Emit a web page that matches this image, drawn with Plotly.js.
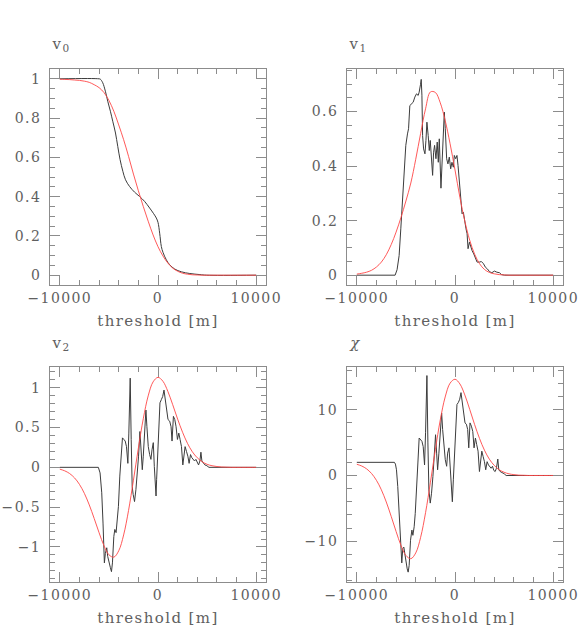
<!DOCTYPE html>
<html>
<head>
<meta charset="utf-8">
<script src="https://cdn.plot.ly/plotly-3.0.1.min.js"></script>
<style>
  html, body { margin: 0; padding: 0; background: #fff; }
  #chart { width: 587px; height: 644px; }
  /* the original lettering is wide and airy */
  #chart .main-svg text { letter-spacing: 1.4px; }
</style>
</head>
<body>
<div id="chart"></div>
<script>
// model (red) curves, read on a 500 m grid
const gridX = [-10000, -9500, -9000, -8500, -8000, -7500, -7000, -6500, -6000, -5500, -5000,
  -4500, -4000, -3500, -3000, -2500, -2000, -1500, -1000, -500, 0,
  500, 1000, 1500, 2000, 2500, 3000, 3500, 4000, 4500, 5000,
  5500, 6000, 6500, 7000, 7500, 8000, 8500, 9000, 9500, 10000]

const v0Model = [0.998, 0.997, 0.996, 0.994, 0.992, 0.988, 0.982, 0.97, 0.955, 0.93, 0.89,
  0.835, 0.765, 0.69, 0.605, 0.515, 0.43, 0.35, 0.275, 0.205, 0.145,
  0.098, 0.062, 0.036, 0.02, 0.01, 0.005, 0.002, 0.001, 0, 0,
  0, 0, 0, 0, 0, 0, 0, 0, 0, 0]

const v1Model = [0.004, 0.007, 0.011, 0.018, 0.03, 0.048, 0.075, 0.112, 0.158, 0.212, 0.272,
  0.338, 0.425, 0.52, 0.61, 0.672, 0.67, 0.632, 0.567, 0.482, 0.386,
  0.285, 0.198, 0.128, 0.077, 0.042, 0.021, 0.01, 0.005, 0.002, 0.001,
  0, 0, 0, 0, 0, 0, 0, 0, 0, 0]

const v2Model = [-0.023, -0.044, -0.078, -0.133, -0.214, -0.327, -0.472, -0.642, -0.821, -0.985, -1.098,
  -1.128, -1.048, -0.849, -0.541, -0.161, 0.241, 0.61, 0.897, 1.073, 1.13,
  1.081, 0.955, 0.786, 0.606, 0.441, 0.302, 0.195, 0.12, 0.07, 0.038,
  0.02, 0.01, 0.004, 0.002, 0, 0, 0, 0, 0, 0]

const chiModel = [1.705, 1.442, 1.003, 0.303, -0.736, -2.177, -4.03, -6.213, -8.517, -10.65, -12.165,
  -12.656, -11.78, -9.4, -5.66, -1.015, 3.92, 8.447, 11.94, 14.04, 14.64,
  13.92, 12.25, 10.05, 7.74, 5.62, 3.85, 2.48, 1.53, 0.88, 0.49,
  0.25, 0.13, 0.05, 0.03, 0, 0, 0, 0, 0, 0]

// measured (black) curves
const v0X = [-10000, -6000, -5870, -5630, -5360, -5120, -4850, -4610, -4330, -4100, -3860, -3580,
  -3310, -2900, -2390, -1880, -1370, -850, -440, -170, 0, 170, 340, 510, 850, 1190, 1710,
  2390, 3240, 4270, 4950, 10000]
const v0Y = [1, 1, 0.998, 0.98, 0.937, 0.886, 0.835, 0.784, 0.724, 0.656, 0.588, 0.529,
  0.486, 0.452, 0.423, 0.401, 0.376, 0.342, 0.313, 0.291, 0.269, 0.214, 0.146, 0.116, 0.078, 0.053, 0.031,
  0.017, 0.0085, 0.003, 0, 0]

const v1X = [-10000, -6100, -5900, -5690, -5520, -5350, -5180, -5010, -4840, -4730,
  -4600, -4430, -4260, -4090, -3920, -3750, -3650, -3510, -3440, -3370,
  -3300, -3200, -3060, -2960, -2860, -2730, -2620, -2520, -2420, -2280,
  -2180, -2080, -1940, -1810, -1700, -1600, -1430, -1330, -1190, -1090,
  -990, -850, -720, -580, -440, -310, -170, -70, 70, 200,
  310, 440, 610, 720, 850, 990, 1120, 1230, 1330, 1470,
  1600, 1740, 1910, 2080, 2250, 2490, 2690, 2900, 3100, 3300,
  3510, 3750, 4020, 4260, 4530, 4740, 5040, 10000]
const v1Y = [0, 0, 0.02, 0.072, 0.17, 0.268, 0.366, 0.476, 0.518, 0.537,
  0.622, 0.628, 0.634, 0.653, 0.665, 0.659, 0.671, 0.7, 0.718, 0.66,
  0.512, 0.463, 0.445, 0.494, 0.561, 0.512, 0.457, 0.494, 0.451, 0.366,
  0.451, 0.476, 0.427, 0.488, 0.414, 0.5, 0.319, 0.414, 0.537, 0.598,
  0.537, 0.427, 0.408, 0.433, 0.39, 0.414, 0.396, 0.439, 0.427, 0.439,
  0.402, 0.353, 0.292, 0.225, 0.231, 0.194, 0.17, 0.152, 0.097, 0.121,
  0.103, 0.09, 0.078, 0.06, 0.048, 0.048, 0.05, 0.042, 0.029, 0.023,
  0.013, 0.009, 0.015, 0.011, 0.009, 0.002, 0, 0]

const v2X = [-10000, -6075, -5900, -5730, -5600, -5460, -5360, -5220, -5120, -4980,
  -4850, -4740, -4640, -4500, -4400, -4270, -4160, -4030, -3890, -3750,
  -3620, -3480, -3340, -3210, -3070, -2970, -2830, -2730, -2630, -2530,
  -2390, -2250, -2120, -1980, -1840, -1710, -1600, -1500, -1370, -1230,
  -1130, -990, -850, -720, -610, -480, -375, -270, -200, -140,
  -30, 100, 200, 340, 480, 610, 750, 890, 1020, 1190,
  1330, 1430, 1570, 1710, 1840, 1980, 2120, 2250, 2390, 2530,
  2660, 2760, 2900, 3040, 3170, 3310, 3450, 3580, 3720, 3860,
  4000, 4130, 4270, 4370, 4470, 4610, 4780, 4980, 5190, 10000]
const v2Y = [0, 0, -0.07, -0.32, -0.7, -1.2, -1.08, -1.01, -1.12, -1.22,
  -1.26, -1.31, -1.2, -0.87, -0.78, -0.82, -0.7, -0.49, -0.11, 0.18,
  0.37, 0.35, 0.33, 0.26, 0.05, 0.43, 1.12, 0.35, -0.24, -0.34,
  -0.43, -0.28, -0.11, 0.14, 0.45, 0.14, -0.03, 0.14, 0.43, 0.72,
  0.51, 0.26, 0.16, 0.1, 0.22, 0.31, 0.01, -0.32, -0.36, -0.15,
  0.14, 0.43, 0.81, 0.85, 0.89, 0.97, 0.85, 0.72, 0.6, 0.58,
  0.51, 0.33, 0.64, 0.6, 0.51, 0.35, 0.43, 0.35, 0.26, 0.03,
  0.18, 0.26, 0.2, 0.14, 0.05, 0.16, 0.12, 0.1, 0.08, 0.1,
  0.05, 0.03, 0.08, 0.19, 0.08, 0.05, 0.03, 0.02, 0, 0]

const chiX = [-10000, -6170, -6065, -5960, -5830, -5690, -5550, -5420, -5320, -5210,
  -5110, -4970, -4870, -4770, -4670, -4530, -4390, -4290, -4160, -4050,
  -3920, -3780, -3650, -3510, -3370, -3240, -3100, -3000, -2860, -2760,
  -2660, -2520, -2390, -2250, -2110, -1980, -1870, -1770, -1640, -1500,
  -1360, -1260, -1120, -990, -850, -750, -610, -510, -375, -270,
  -170, -34, 100, 200, 340, 480, 610, 750, 890, 1020,
  1160, 1290, 1400, 1530, 1670, 1810, 1940, 2080, 2210, 2350,
  2490, 2620, 2730, 2860, 3000, 3130, 3270, 3410, 3540, 3680,
  3820, 3950, 4090, 4220, 4360, 4460, 4600, 4800, 5010, 5210,
  10000]
const chiY = [2, 2, 1.73, 0.87, -1.68, -5.77, -10.4, -13.3, -11.1, -10.9,
  -11.9, -13.4, -14.2, -14.7, -13.7, -9.85, -8.3, -9.1, -7.8, -5.77,
  -2.7, 1.9, 5.7, 5.5, 5.2, 4.4, 1.6, 6.5, 15.2, 4.95,
  -2.2, -4.2, -2.7, -0.15, 3.4, 6.2, 3.4, 0.87, 3.4, 6.5,
  9.5, 7.0, 3.9, 2.4, 1.4, 3.4, 4.2, 1.4, -2.2, -4.0,
  -0.66, 3.4, 7.5, 10.8, 11.1, 11.6, 12.6, 11.1, 9.5, 8.0,
  7.8, 7.0, 4.2, 8.0, 7.5, 6.7, 4.2, 5.7, 4.7, 3.7,
  0.6, 2.65, 3.7, 2.9, 2.1, 0.87, 2.1, 1.6, 1.4, 1.1,
  1.4, 0.77, 0.6, 1.1, 2.5, 0.87, 0.6, 0.46, 0.26, 0,
  0]

const xTickVals = [-10000, 0, 10000]
const xTickText = ['\u221210000', '0', '10000']
const panelLabels = ['v<sub>0</sub>', 'v<sub>1</sub>', 'v<sub>2</sub>', '<i>\u03c7</i>']

const FONT = 'DejaVu Serif'
const AXIS_COLOR = '#8c8c8c'
const TEXT_COLOR = '#606060'
const BLACK = 'rgb(60,60,60)'
const RED = 'rgb(255,70,70)'

const W = 587
const H = 644
// frames in pixels: [left, right, top, bottom]
const frames = [
  [50, 266, 69, 285],
  [347, 563, 69, 285],
  [50, 266, 367, 582],
  [347, 563, 367, 582],
]
const yRanges = [[-0.05, 1.05], [-0.036, 0.756], [-1.44, 1.26], [-16.2, 16.5]]
const yDticks = [0.2, 0.2, 0.5, 10]
const yMinor = [0.05, 0.05, 0.1, 2]

function blackTrace (x, y, i, shape) {
  const s = i === 0 ? '' : String(i + 1)
  return { x, y, type: 'scatter', mode: 'lines', xaxis: 'x' + s, yaxis: 'y' + s,
    line: { color: BLACK, width: 1, shape: shape || 'linear' }, hoverinfo: 'skip' }
}
function redTrace (y, i) {
  const s = i === 0 ? '' : String(i + 1)
  return { x: gridX, y, type: 'scatter', mode: 'lines', xaxis: 'x' + s, yaxis: 'y' + s,
    line: { color: RED, width: 0.9, shape: 'spline', smoothing: 1 }, hoverinfo: 'skip' }
}

const data = [
  blackTrace(v0X, v0Y, 0, 'spline'), redTrace(v0Model, 0),
  blackTrace(v1X, v1Y, 1), redTrace(v1Model, 1),
  blackTrace(v2X, v2Y, 2), redTrace(v2Model, 2),
  blackTrace(chiX, chiY, 3), redTrace(chiModel, 3),
]

const baseAxis = {
  showline: true, linecolor: AXIS_COLOR, linewidth: 1, mirror: 'allticks',
  ticks: 'inside', ticklen: 10, tickwidth: 1, tickcolor: AXIS_COLOR,
  showgrid: false, zeroline: false, fixedrange: true,
  tickfont: { family: FONT, size: 14, color: TEXT_COLOR },
}

const layout = {
  width: W, height: H,
  margin: { l: 0, r: 0, t: 0, b: 0 },
  paper_bgcolor: '#fff', plot_bgcolor: '#fff',
  showlegend: false,
  annotations: [],
}

frames.forEach((f, i) => {
  const s = i === 0 ? '' : String(i + 1)
  layout['xaxis' + s] = Object.assign({}, baseAxis, {
    domain: [f[0] / W, f[1] / W], anchor: 'y' + s,
    range: [-11000, 11000], tickmode: 'array', tickvals: xTickVals, ticktext: xTickText,
    minor: { dtick: 2000, tick0: 0, ticks: 'inside', ticklen: 5, tickcolor: AXIS_COLOR, showgrid: false },
    title: { text: 'threshold [m]', font: { family: FONT, size: 15, color: TEXT_COLOR }, standoff: 10 },
  })
  layout['yaxis' + s] = Object.assign({}, baseAxis, {
    domain: [1 - f[3] / H, 1 - f[2] / H], anchor: 'x' + s,
    range: yRanges[i], dtick: yDticks[i], tick0: 0, ticklabelstandoff: 5,
    minor: { dtick: yMinor[i], tick0: 0, ticks: 'inside', ticklen: 5, tickcolor: AXIS_COLOR, showgrid: false },
  })
  layout.annotations.push({
    text: panelLabels[i], xref: 'paper', yref: 'paper', showarrow: false,
    x: (f[0] + 1) / W, xanchor: 'left', y: 1 - (f[2] - 24) / H, yanchor: 'middle',
    font: { family: FONT, size: 15, color: TEXT_COLOR },
  })
})

Plotly.newPlot('chart', data, layout, { staticPlot: true })
</script>
</body>
</html>
